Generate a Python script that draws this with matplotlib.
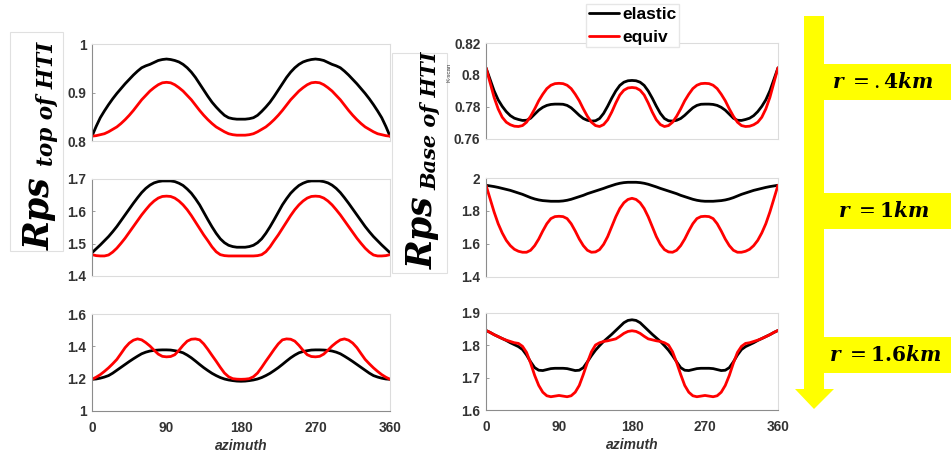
import matplotlib
matplotlib.use('Agg')
import matplotlib.pyplot as plt
from matplotlib.patches import Rectangle, Polygon

plt.rcParams['font.family'] = ['Liberation Sans', 'DejaVu Sans']
plt.rcParams['mathtext.fontset'] = 'custom'
plt.rcParams['mathtext.rm'] = 'DejaVu Serif'
plt.rcParams['mathtext.it'] = 'DejaVu Serif:italic'
plt.rcParams['mathtext.bf'] = 'DejaVu Serif:bold'
plt.rcParams['mathtext.bfit'] = 'DejaVu Serif:italic:bold'

# ---------------- data ----------------
azimuth = list(range(0, 361, 5))
x_ticks = [0, 90, 180, 270, 360]
x_ticklabels = ['0', '90', '180', '270', '360']
series_labels = ['elastic', 'equiv']
radius_labels = [r'$\mathbfit{r}\ =.\mathbf{4}\mathbfit{km}$',
                 r'$\mathbfit{r}\ =\mathbf{1}\mathbfit{km}$',
                 r'$\mathbfit{r}\ =\mathbf{1.6}\mathbfit{km}$']
ylabel_main = 'Rps'
ylabel_subs = ['top of HTI', 'Base of HTI']

# Left column: Rps top of HTI
top_elastic = [0.810, 0.830, 0.848, 0.862, 0.875, 0.887, 0.898, 0.908, 0.918, 0.927, 0.936, 0.944, 0.951, 0.955,
               0.958, 0.962, 0.966, 0.968, 0.969, 0.968, 0.966, 0.963, 0.958, 0.951, 0.942, 0.931, 0.918, 0.905,
               0.892, 0.880, 0.870, 0.861, 0.853, 0.848, 0.846, 0.845, 0.845,
               0.845, 0.846, 0.848, 0.853, 0.861, 0.870, 0.880, 0.892, 0.905, 0.918, 0.931, 0.942, 0.951, 0.958,
               0.963, 0.966, 0.968, 0.969, 0.968, 0.966, 0.962, 0.958, 0.955, 0.951, 0.944, 0.936, 0.927, 0.918,
               0.908, 0.898, 0.887, 0.875, 0.862, 0.848, 0.830, 0.810]
top_equiv = [0.810, 0.811, 0.813, 0.815, 0.819, 0.824, 0.829, 0.836, 0.844, 0.853, 0.863, 0.874, 0.885, 0.894,
             0.903, 0.910, 0.916, 0.920, 0.921, 0.920, 0.916, 0.910, 0.903, 0.894, 0.885, 0.874, 0.863, 0.853,
             0.844, 0.836, 0.829, 0.824, 0.819, 0.815, 0.813, 0.812, 0.812,
             0.812, 0.813, 0.815, 0.819, 0.824, 0.829, 0.836, 0.844, 0.853, 0.863, 0.874, 0.885, 0.894, 0.903,
             0.910, 0.916, 0.920, 0.921, 0.920, 0.916, 0.910, 0.903, 0.894, 0.885, 0.874, 0.863, 0.853, 0.844,
             0.836, 0.829, 0.824, 0.819, 0.815, 0.813, 0.811, 0.810]
mid_elastic = [1.472, 1.484, 1.496, 1.509, 1.522, 1.537, 1.553, 1.571, 1.589, 1.607, 1.625, 1.642, 1.658, 1.671,
               1.681, 1.688, 1.692, 1.694, 1.694, 1.694, 1.692, 1.687, 1.680, 1.669, 1.656, 1.639, 1.620, 1.597,
               1.574, 1.552, 1.532, 1.515, 1.503, 1.495, 1.491, 1.489, 1.489,
               1.489, 1.491, 1.495, 1.503, 1.515, 1.532, 1.552, 1.574, 1.597, 1.620, 1.639, 1.656, 1.669, 1.680,
               1.687, 1.692, 1.694, 1.694, 1.694, 1.692, 1.688, 1.681, 1.671, 1.658, 1.642, 1.625, 1.607, 1.589,
               1.571, 1.553, 1.537, 1.522, 1.509, 1.496, 1.484, 1.472]
mid_equiv = [1.466, 1.463, 1.462, 1.462, 1.465, 1.474, 1.486, 1.501, 1.517, 1.535, 1.553, 1.571, 1.589, 1.605,
             1.620, 1.632, 1.641, 1.646, 1.647, 1.646, 1.641, 1.632, 1.620, 1.605, 1.587, 1.567, 1.547, 1.527,
             1.509, 1.490, 1.475, 1.466, 1.463, 1.462, 1.462, 1.462, 1.462,
             1.462, 1.462, 1.462, 1.463, 1.466, 1.475, 1.490, 1.509, 1.527, 1.547, 1.567, 1.587, 1.605, 1.620,
             1.632, 1.641, 1.646, 1.647, 1.646, 1.641, 1.632, 1.620, 1.605, 1.589, 1.571, 1.553, 1.535, 1.517,
             1.501, 1.486, 1.474, 1.465, 1.462, 1.462, 1.463, 1.466]
bot_elastic = [1.196, 1.198, 1.203, 1.210, 1.219, 1.234, 1.252, 1.270, 1.288, 1.306, 1.323, 1.339, 1.354, 1.364,
               1.371, 1.375, 1.377, 1.378, 1.378, 1.377, 1.373, 1.368, 1.360, 1.346, 1.329, 1.309, 1.288, 1.268,
               1.250, 1.233, 1.219, 1.207, 1.198, 1.192, 1.188, 1.185, 1.184,
               1.185, 1.188, 1.192, 1.198, 1.207, 1.219, 1.233, 1.250, 1.268, 1.288, 1.309, 1.329, 1.346, 1.360,
               1.368, 1.373, 1.377, 1.378, 1.378, 1.377, 1.375, 1.371, 1.364, 1.354, 1.339, 1.323, 1.306, 1.288,
               1.270, 1.252, 1.234, 1.219, 1.210, 1.203, 1.198, 1.196]
bot_equiv = [1.196, 1.209, 1.225, 1.245, 1.267, 1.292, 1.319, 1.355, 1.392, 1.420, 1.438, 1.446, 1.440, 1.423,
             1.402, 1.376, 1.352, 1.338, 1.335, 1.337, 1.348, 1.375, 1.406, 1.432, 1.444, 1.446, 1.440, 1.415,
             1.381, 1.344, 1.308, 1.270, 1.235, 1.212, 1.200, 1.197, 1.196,
             1.197, 1.200, 1.212, 1.235, 1.270, 1.308, 1.344, 1.381, 1.415, 1.440, 1.446, 1.444, 1.432, 1.406,
             1.375, 1.348, 1.337, 1.335, 1.338, 1.352, 1.376, 1.402, 1.423, 1.440, 1.446, 1.438, 1.420, 1.392,
             1.355, 1.319, 1.292, 1.267, 1.245, 1.225, 1.209, 1.196]

# Right column: Rps base of HTI
rtop_elastic = [0.8045, 0.7973, 0.7901, 0.7845, 0.7804, 0.7771, 0.7746, 0.7730, 0.7722, 0.7716, 0.7717, 0.7730,
                0.7755, 0.7780, 0.7798, 0.7810, 0.7816, 0.7818, 0.7818, 0.7817, 0.7810, 0.7795, 0.7772, 0.7748,
                0.7728, 0.7717, 0.7712, 0.7714, 0.7728, 0.7760, 0.7805, 0.7855, 0.7900, 0.7935, 0.7955, 0.7964,
                0.7966,
                0.7964, 0.7955, 0.7935, 0.7900, 0.7855, 0.7805, 0.7760, 0.7728, 0.7714, 0.7712, 0.7717, 0.7728,
                0.7748, 0.7772, 0.7795, 0.7810, 0.7817, 0.7818, 0.7818, 0.7816, 0.7810, 0.7798, 0.7780, 0.7755,
                0.7730, 0.7717, 0.7716, 0.7722, 0.7730, 0.7746, 0.7771, 0.7804, 0.7845, 0.7901, 0.7973, 0.8045]
rtop_equiv = [0.8045, 0.7953, 0.7860, 0.7788, 0.7736, 0.7705, 0.7689, 0.7680, 0.7678, 0.7684, 0.7705, 0.7742,
              0.7788, 0.7839, 0.7880, 0.7915, 0.7936, 0.7946, 0.7948, 0.7946, 0.7936, 0.7915, 0.7880, 0.7839,
              0.7788, 0.7742, 0.7705, 0.7684, 0.7678, 0.7690, 0.7720, 0.7768, 0.7825, 0.7875, 0.7905, 0.7919,
              0.7922,
              0.7919, 0.7905, 0.7875, 0.7825, 0.7768, 0.7720, 0.7690, 0.7678, 0.7684, 0.7705, 0.7742, 0.7788,
              0.7839, 0.7880, 0.7915, 0.7936, 0.7946, 0.7948, 0.7946, 0.7936, 0.7915, 0.7880, 0.7839, 0.7788,
              0.7742, 0.7705, 0.7684, 0.7678, 0.7680, 0.7689, 0.7705, 0.7736, 0.7788, 0.7860, 0.7953, 0.8045]
rmid_elastic = [1.956, 1.952, 1.948, 1.943, 1.937, 1.931, 1.925, 1.917, 1.909, 1.901, 1.891, 1.881, 1.873, 1.867,
                1.863, 1.861, 1.859, 1.859, 1.859, 1.861, 1.865, 1.871, 1.879, 1.887, 1.895, 1.905, 1.913, 1.921,
                1.929, 1.937, 1.946, 1.954, 1.962, 1.968, 1.972, 1.974, 1.974,
                1.974, 1.972, 1.968, 1.962, 1.954, 1.946, 1.937, 1.929, 1.921, 1.913, 1.905, 1.895, 1.887, 1.879,
                1.871, 1.865, 1.861, 1.859, 1.859, 1.859, 1.861, 1.863, 1.867, 1.873, 1.881, 1.891, 1.901, 1.909,
                1.917, 1.925, 1.931, 1.937, 1.943, 1.948, 1.952, 1.956]
rmid_equiv = [1.956, 1.875, 1.794, 1.723, 1.667, 1.622, 1.590, 1.568, 1.556, 1.550, 1.550, 1.562, 1.590, 1.630,
              1.679, 1.723, 1.754, 1.766, 1.768, 1.766, 1.754, 1.723, 1.679, 1.630, 1.590, 1.562, 1.550, 1.552,
              1.566, 1.598, 1.645, 1.705, 1.765, 1.815, 1.850, 1.870, 1.877,
              1.870, 1.850, 1.815, 1.765, 1.705, 1.645, 1.598, 1.566, 1.552, 1.550, 1.562, 1.590, 1.630, 1.679,
              1.723, 1.754, 1.766, 1.768, 1.766, 1.754, 1.723, 1.679, 1.630, 1.590, 1.562, 1.550, 1.550, 1.556,
              1.568, 1.590, 1.622, 1.667, 1.723, 1.794, 1.875, 1.956]
rbot_elastic = [1.846, 1.840, 1.833, 1.827, 1.821, 1.815, 1.808, 1.802, 1.796, 1.787, 1.770, 1.749, 1.731, 1.723,
                1.722, 1.725, 1.728, 1.729, 1.729, 1.729, 1.728, 1.725, 1.722, 1.723, 1.731, 1.749, 1.768, 1.785,
                1.799, 1.812, 1.823, 1.834, 1.846, 1.858, 1.870, 1.877, 1.879,
                1.877, 1.870, 1.858, 1.846, 1.834, 1.823, 1.812, 1.799, 1.785, 1.768, 1.749, 1.731, 1.723, 1.722,
                1.725, 1.728, 1.729, 1.729, 1.729, 1.728, 1.725, 1.722, 1.723, 1.731, 1.749, 1.770, 1.787, 1.796,
                1.802, 1.808, 1.815, 1.821, 1.827, 1.833, 1.840, 1.846]
rbot_equiv = [1.846, 1.840, 1.833, 1.827, 1.821, 1.816, 1.812, 1.808, 1.806, 1.797, 1.778, 1.745, 1.707, 1.676,
              1.655, 1.644, 1.641, 1.643, 1.645, 1.643, 1.641, 1.644, 1.655, 1.676, 1.710, 1.747, 1.780, 1.801,
              1.808, 1.812, 1.814, 1.817, 1.820, 1.828, 1.837, 1.843, 1.845,
              1.843, 1.837, 1.828, 1.820, 1.817, 1.814, 1.812, 1.808, 1.801, 1.780, 1.747, 1.710, 1.676, 1.655,
              1.644, 1.641, 1.643, 1.645, 1.643, 1.641, 1.644, 1.655, 1.676, 1.707, 1.745, 1.778, 1.797, 1.806,
              1.808, 1.812, 1.816, 1.821, 1.827, 1.833, 1.840, 1.846]

# y tick values / labels per panel
yt_top = [0.8, 0.9, 1.0];          ytl_top = ['0.8', '0.9', '1']
yt_mid = [1.4, 1.5, 1.6, 1.7];     ytl_mid = ['1.4', '1.5', '1.6', '1.7']
yt_bot = [1.0, 1.2, 1.4, 1.6];     ytl_bot = ['1', '1.2', '1.4', '1.6']
yt_rtop = [0.76, 0.78, 0.80, 0.82]; ytl_rtop = ['0.76', '0.78', '0.8', '0.82']
yt_rmid = [1.4, 1.6, 1.8, 2.0];    ytl_rmid = ['1.4', '1.6', '1.8', '2']
yt_rbot = [1.6, 1.7, 1.8, 1.9];    ytl_rbot = ['1.6', '1.7', '1.8', '1.9']

# ---------------- figure ----------------
W, H = 951, 454
fig = plt.figure(figsize=(W / 100, H / 100), dpi=100)
fig.patch.set_facecolor('white')


def rect_px(x0, y0, x1, y1):
    return [x0 / W, 1 - y1 / H, (x1 - x0) / W, (y1 - y0) / H]


def fx(x):
    return x / W


def fy(y):
    return 1 - y / H


panels = [
    (rect_px(92, 44, 390, 141), top_elastic, top_equiv, yt_top, ytl_top, False),
    (rect_px(92, 179, 390, 276), mid_elastic, mid_equiv, yt_mid, ytl_mid, False),
    (rect_px(92, 314, 390, 411), bot_elastic, bot_equiv, yt_bot, ytl_bot, True),
    (rect_px(486, 43, 778, 139), rtop_elastic, rtop_equiv, yt_rtop, ytl_rtop, False),
    (rect_px(486, 178, 778, 277), rmid_elastic, rmid_equiv, yt_rmid, ytl_rmid, False),
    (rect_px(486, 313, 778, 410), rbot_elastic, rbot_equiv, yt_rbot, ytl_rbot, True),
]

lab_color = '#333333'
handles = None
for pos, el, eq, yt, ytl, bottom in panels:
    ax = fig.add_axes(pos)
    l1, = ax.plot(azimuth, el, color='black', lw=2.0, solid_capstyle='round')
    l2, = ax.plot(azimuth, eq, color='#ff0000', lw=2.0, solid_capstyle='round')
    handles = [l1, l2]
    ax.set_xlim(0, 360)
    ax.set_ylim(yt[0], yt[-1])
    ax.set_yticks(yt, ytl)
    ax.set_xticks(x_ticks)
    for s in ['top', 'right']:
        ax.spines[s].set_color('#dcdcdc')
        ax.spines[s].set_linewidth(0.8)
    ax.spines['left'].set_color('#8c8c8c')
    ax.spines['left'].set_linewidth(0.8)
    if bottom:
        ax.spines['bottom'].set_color('#8c8c8c')
        ax.set_xticklabels(x_ticklabels)
        ax.set_xlabel('azimuth', fontsize=10, fontweight='bold', fontstyle='italic',
                      color=lab_color, labelpad=3)
    else:
        ax.spines['bottom'].set_color('#dcdcdc')
        ax.set_xticklabels([])
    ax.spines['bottom'].set_linewidth(0.8)
    ax.tick_params(axis='both', direction='in', length=2.5, width=0.6, color='#8c8c8c',
                   labelsize=9.8, labelcolor=lab_color, pad=4)
    ax.tick_params(axis='x', length=0, pad=7)
    for t in ax.get_yticklabels() + ax.get_xticklabels():
        t.set_fontweight('bold')

# y-label boxes and labels
fig.add_artist(Rectangle((fx(10), fy(251)), fx(63) - fx(10), fy(32) - fy(251),
                         transform=fig.transFigure, fill=False, edgecolor='#e0e0e0', lw=0.8))
fig.add_artist(Rectangle((fx(392), fy(273)), fx(447) - fx(392), fy(53) - fy(273),
                         transform=fig.transFigure, fill=False, edgecolor='#e0e0e0', lw=0.8))
serif = {'family': 'DejaVu Serif', 'weight': 'bold', 'style': 'italic'}
for (bx, by, sx, sy, fs), sub in zip([(50, 250, 53, 166, 15.5), (433, 269, 436, 190, 15)], ylabel_subs):
    fig.text(fx(bx), fy(by), ylabel_main, rotation=90, rotation_mode='anchor',
             ha='left', va='baseline', fontsize=25, color='black', fontdict=serif)
    fig.text(fx(sx), fy(sy), sub, rotation=90, rotation_mode='anchor',
             ha='left', va='baseline', fontsize=fs, color='black', fontdict=serif)
fig.text(fx(449), fy(72), 'K-scan', rotation=90, ha='center', va='center', fontsize=4.5,
         color='#404040')

# legend
fig.legend(handles, series_labels, loc='upper left', bbox_to_anchor=(fx(586), fy(4)),
           frameon=True, fancybox=False, edgecolor='#e6e6e6', framealpha=1,
           prop={'weight': 'bold', 'size': 12.5}, handlelength=1.75, handletextpad=0.2,
           labelspacing=0.45, borderpad=0.15, borderaxespad=0)

# yellow arrow with radius boxes
yellow = '#ffff00'
fig.add_artist(Rectangle((fx(804), fy(390)), fx(824) - fx(804), fy(16) - fy(390),
                         transform=fig.transFigure, facecolor=yellow, edgecolor='none'))
fig.add_artist(Polygon([(fx(795), fy(389)), (fx(834), fy(389)), (fx(814), fy(409))],
                       closed=True, transform=fig.transFigure, facecolor=yellow, edgecolor='none'))
for (y0, y1), xc, lab in zip([(64, 100), (193, 229), (337, 373)], [883, 884, 885], radius_labels):
    fig.add_artist(Rectangle((fx(823), fy(y1)), fx(951) - fx(823), fy(y0) - fy(y1),
                             transform=fig.transFigure, facecolor=yellow, edgecolor='none'))
    fig.text(fx(xc), fy((y0 + y1) / 2), lab, ha='center', va='center', fontsize=14.5, color='black')

fig.savefig('out.png', dpi=100, facecolor='white')
